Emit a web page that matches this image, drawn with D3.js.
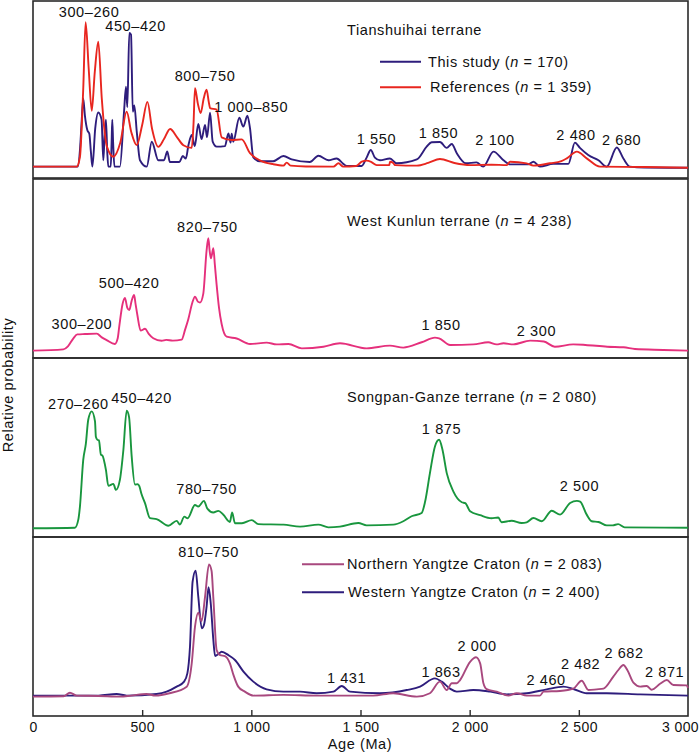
<!DOCTYPE html>
<html><head><meta charset="utf-8">
<script src="https://cdn.jsdelivr.net/npm/d3@7"></script>
<style>
html,body{margin:0;padding:0;background:#fff;}
svg text{font-family:"Liberation Sans",Arial,sans-serif;fill:#111;}
</style></head>
<body><svg id="c" width="700" height="753"></svg>
<script>
// ---------------- DATA (age in Ma, relative probability in % of panel height) ----------------
const ageTicks = [0, 500, 1000, 1500, 2000, 2500, 3000];
const tickLabels = ["0", "500", "1 000", "1 500", "2 000", "2 500", "3 000"];

const tianshuihaiThisStudy = [[0,6.4],[205,6.4],[215,15.8],[222,30],[230,45],[238,35],[249,27],[258,25],[265,15],[272,6.4],[285,28],[299,37],[314,33],[322,10],[328,24],[334,33],[340,15],[345,6.4],[356,6.4],[360,20],[363,33],[367,20],[373,6.4],[398,6.4],[417,37.5],[426,51.6],[432,40],[441,82],[449,81],[457,37.5],[464,41],[475,26.5],[490,10],[521,6.4],[544,20.5],[574,10],[600,10],[615,15],[627,9],[670,9],[686,12.4],[700,11],[712,18.6],[727,24.3],[741,18],[757,30.5],[772,22],[788,30],[797,23],[811,36.9],[823,20.5],[841,17.7],[879,18],[895,25.2],[905,20],[910,25],[917,20.5],[945,34],[963,29],[982,35.2],[994,28],[1009,11.7],[1039,9.5],[1100,9.5],[1147,12.4],[1185,10.5],[1268,9],[1307,12.6],[1353,10],[1391,11],[1421,8],[1437,6.8],[1505,6.8],[1528,11.5],[1547,15.8],[1566,11.5],[1589,10],[1635,11],[1665,8.3],[1758,10.5],[1803,17.7],[1826,20.2],[1864,20.3],[1895,17],[1918,19.2],[1941,14],[1983,8.3],[2031,8.8],[2062,6.4],[2109,14.9],[2155,10],[2185,7.7],[2269,7.7],[2292,9.2],[2322,6.4],[2383,8],[2452,8],[2482,20],[2505,17],[2543,13],[2590,10],[2628,6.4],[2674,17.2],[2704,11],[2734,6.4],[2800,5.9],[3000,5.8]];

const tianshuihaiReferences = [[0,6.4],[200,6.4],[215,12],[230,50],[241,88],[255,62],[269,38],[283,60],[299,77],[315,45],[338,18],[368,12],[400,20],[429,37.5],[450,26],[475,18.6],[500,30],[524,43],[545,28],[574,17.6],[600,22],[628,27.7],[660,23],[689,18.5],[727,17],[735,30],[742,50.7],[755,42],[768,36.7],[782,45],[795,49.9],[805,43],[811,39.5],[841,38.6],[864,23],[910,21.5],[956,21.8],[994,14],[1039,10],[1100,7.8],[1147,7],[1162,8.7],[1180,7],[1250,6.5],[1376,6.4],[1399,8.3],[1421,6.4],[1480,6.8],[1506,9.2],[1528,9.8],[1550,9],[1574,7.3],[1632,7.3],[1635,9.2],[1650,8.5],[1658,7.3],[1758,7],[1810,8.5],[1864,10.7],[1930,8.5],[2002,7.3],[2100,7.5],[2170,7.3],[2185,9.2],[2261,8.3],[2292,7],[2368,8.3],[2420,9.5],[2445,11.1],[2491,14.9],[2536,11.1],[2597,6.4],[2800,6.2],[3000,5.8]];

const westKunlun = [[0,4.1],[139,4.8],[160,6.5],[185,11],[203,13.2],[238,13.4],[292,13.6],[315,11.5],[337,10],[375,7.8],[388,11],[395,17.5],[410,30],[421,33.5],[432,28],[441,26.8],[452,32],[463,35.2],[470,30],[478,24],[493,15.3],[513,16.3],[530,13.5],[551,11],[589,9.6],[610,10.1],[640,9.7],[681,10.3],[697,16],[711,21.5],[730,31],[742,34.3],[755,31.5],[765,31],[780,36],[795,60],[803,66.9],[809,60],[815,55.7],[826,61.3],[833,52],[841,41],[852,28],[864,19],[887,11.9],[933,10.9],[994,7.8],[1070,8.6],[1116,7.6],[1170,7.8],[1231,5.4],[1330,6.3],[1406,8.2],[1528,5.4],[1635,6.9],[1696,5.8],[1780,8.8],[1841,11.4],[1860,11],[1910,7.3],[2017,7.6],[2085,8.8],[2123,7.6],[2155,8.2],[2200,7.6],[2277,9.7],[2340,9.2],[2390,6.3],[2474,7.6],[2530,7.3],[2630,6.3],[2705,6],[2757,5],[2887,4.5],[3000,4.1]];

const songpanGanze = [[0,4.9],[192,5.2],[208,10],[215,17],[230,43],[242,52],[253,65.5],[269,70.2],[284,64.6],[288,56],[295,54.3],[302,54],[311,46],[318,45.5],[334,37.5],[345,28.6],[368,29.7],[380,26.3],[398,31.9],[414,48.7],[429,70.6],[440,67],[452,45],[467,29.3],[480,29.5],[487,28.4],[497,24],[513,18.9],[536,10.5],[566,10],[620,6.3],[658,9],[673,7],[693,11.4],[708,10.5],[742,17.9],[757,17],[783,20.2],[798,16],[826,13.7],[849,14.6],[872,12.4],[902,8.4],[912,13.7],[925,7.7],[957,7.7],[1002,9.4],[1032,7.2],[1147,6.9],[1223,5.8],[1307,6.9],[1353,5.4],[1406,5.8],[1490,7.8],[1528,6.5],[1650,6.9],[1696,8.8],[1734,11.6],[1780,13.4],[1796,19.8],[1818,35.7],[1841,50.6],[1860,54.3],[1875,49],[1895,35.7],[1925,25.5],[1964,19.4],[1980,18.9],[2002,14.4],[2048,12.2],[2100,10.5],[2131,10.9],[2146,8.2],[2192,9.1],[2238,7.8],[2261,8.2],[2292,10.6],[2330,8.8],[2376,14.7],[2414,12.5],[2460,19],[2491,20.2],[2506,19.8],[2536,12.5],[2559,8.8],[2590,8.4],[2628,6.5],[2655,6.5],[2680,7.2],[2710,5.4],[3000,5.2]];

const northernYangtze = [[0,10.8],[140,11],[169,13],[200,11.4],[300,11.2],[400,10.8],[450,11.4],[520,12.3],[560,11.4],[625,12.7],[704,16.4],[727,29.4],[742,49.9],[757,57.7],[772,53],[788,66.6],[806,84.7],[818,81],[826,66],[841,36.9],[857,34],[879,33.5],[902,29.4],[918,23],[940,16.4],[970,13.6],[1009,11.4],[1147,11.8],[1300,11.4],[1406,11.4],[1559,11.4],[1650,12.7],[1758,10.8],[1818,12.7],[1864,19.2],[1895,14.5],[1918,18.3],[1941,18.3],[1956,20.1],[2002,30.3],[2029,32.8],[2048,29.4],[2063,18.3],[2078,15],[2124,13.6],[2177,11.4],[2216,12.7],[2261,11.4],[2322,11.4],[2338,13.6],[2414,14],[2475,15.3],[2513,19.7],[2544,14.5],[2582,14.9],[2613,15.3],[2658,22],[2681,25.7],[2704,28.5],[2722,25.7],[2750,18.6],[2781,16.4],[2811,16.8],[2834,14.7],[2872,18],[2903,20.1],[2933,17.3],[2994,17.1],[3000,15.6]];

const westernYangtze = [[0,11.4],[300,11.4],[383,12.3],[429,11.4],[566,12.3],[612,13.6],[658,16.4],[692,19.2],[707,23.8],[719,38.7],[731,75],[745,81.2],[757,66.7],[773,49],[783,50.8],[795,61],[804,71.9],[814,63],[826,42.5],[834,33.5],[849,34.6],[864,35.9],[895,34],[925,31.3],[964,24.8],[1009,19.2],[1070,14.9],[1147,13.6],[1223,13.6],[1299,12.7],[1376,13.6],[1414,16.8],[1452,13.6],[1589,12.7],[1712,14.5],[1773,16.4],[1841,21],[1872,19.2],[1910,15.3],[1941,13.6],[2017,14.5],[2094,13.6],[2170,12.1],[2261,12.7],[2353,14.9],[2429,16.4],[2475,15.1],[2536,12.7],[2628,12.7],[2780,12.1],[3000,11.4]];

// annotation labels [age position, value position (baseline), text]
const peakLabels1 = [[257,90.7,"300–260"],[470,83.2,"450–420"],[788,54.8,"800–750"],[999,37.5,"1 000–850"],[1573,19.2,"1 550"],[1857,22.6,"1 850"],[2116,18.4,"2 100"],[2487,21.5,"2 480"],[2696,18.6,"2 680"]];
const peakLabels2 = [[224,16.2,"300–200"],[440,39.3,"500–420"],[799,70.2,"820–750"],[1869,15.6,"1 850"],[2306,12.5,"2 300"]];
const peakLabels3 = [[208,71.3,"270–260"],[497,74.7,"450–420"],[795,23.9,"780–750"],[1871,57.5,"1 875"],[2503,25.9,"2 500"]];
const peakLabels4 = [[804,88.7,"810–750"],[1436,18.3,"1 431"],[1869,22,"1 863"],[2034,36.3,"2 000"],[2350,17.3,"2 460"],[2508,26.3,"2 482"],[2707,32.4,"2 682"],[2893,22,"2 871"]];

// ---------------- DRAWING ----------------
const svg = d3.select("#c");
const left = 33, right = 688;
const x = d3.scaleLinear().domain([0, 3000]).range([left, right]);
const panels = [[1,178],[179,358],[358,537],[537,716]];
const yScales = panels.map(p => d3.scaleLinear().domain([0,100]).range([p[1], p[0]]));

const fs = "14.5px", ls = "0.6px";

// frames
panels.forEach(p => {
  svg.append("rect").attr("x", left).attr("y", p[0]).attr("width", right-left).attr("height", p[1]-p[0])
    .attr("fill","none").attr("stroke","#2a2a2a").attr("stroke-width",1.6);
});

function drawLine(data, yS, color){
  const line = d3.line().x(d => x(d[0])).y(d => yS(d[1])).curve(d3.curveMonotoneX);
  svg.append("path").datum(data).attr("d", line).attr("fill","none")
    .attr("stroke", color).attr("stroke-width", 1.9).attr("stroke-linejoin","round");
}
const cBlue = "#2e1d7c", cRed = "#e8261f", cPink = "#e5307c", cGreen = "#19963e", cMauve = "#a8487e";

drawLine(tianshuihaiThisStudy, yScales[0], cBlue);
drawLine(tianshuihaiReferences, yScales[0], cRed);
drawLine(westKunlun, yScales[1], cPink);
drawLine(songpanGanze, yScales[2], cGreen);
drawLine(westernYangtze, yScales[3], cBlue);
drawLine(northernYangtze, yScales[3], cMauve);

function labels(arr, yS){
  arr.forEach(d => {
    svg.append("text").attr("x", x(d[0])).attr("y", yS(d[1])).attr("text-anchor","middle")
      .style("font-size", fs).style("letter-spacing", ls).text(d[2]);
  });
}
labels(peakLabels1, yScales[0]);
labels(peakLabels2, yScales[1]);
labels(peakLabels3, yScales[2]);
labels(peakLabels4, yScales[3]);

function txt(px, py, parts){
  const t = svg.append("text").attr("x", px).attr("y", py).style("font-size", fs).style("letter-spacing", ls);
  parts.forEach(p => {
    const s = t.append("tspan").text(p[0]);
    if (p[1]) s.style("font-style","italic");
  });
  return t;
}
// panel titles & legends
txt(347, 35, [["Tianshuihai terrane"]]);
svg.append("line").attr("x1",380).attr("x2",421).attr("y1",61.7).attr("y2",61.7).attr("stroke",cBlue).attr("stroke-width",2);
txt(428, 66.7, [["This study ("],["n",1],[" = 170)"]]);
svg.append("line").attr("x1",380).attr("x2",421).attr("y1",87.3).attr("y2",87.3).attr("stroke",cRed).attr("stroke-width",2);
txt(430, 92, [["References ("],["n",1],[" = 1 359)"]]);
txt(347, 225.7, [["West Kunlun terrane ("],["n",1],[" = 4 238)"]]);
txt(347, 401.7, [["Songpan-Ganze terrane ("],["n",1],[" = 2 080)"]]);
svg.append("line").attr("x1",302).attr("x2",344).attr("y1",564.3).attr("y2",564.3).attr("stroke",cMauve).attr("stroke-width",2);
txt(347, 568.5, [["Northern Yangtze Craton ("],["n",1],[" = 2 083)"]]);
svg.append("line").attr("x1",302).attr("x2",344).attr("y1",592.3).attr("y2",592.3).attr("stroke",cBlue).attr("stroke-width",2);
txt(348, 597, [["Western Yangtze Craton ("],["n",1],[" = 2 400)"]]);

// bottom axis (ticks inward)
const axis = d3.axisBottom(x).tickValues(ageTicks).tickFormat((d,i) => tickLabels[i]).tickSizeInner(-6).tickSizeOuter(0).tickPadding(6);
const g = svg.append("g").attr("transform", `translate(0,${panels[3][1]})`).call(axis);
g.select(".domain").remove();
g.selectAll(".tick line").attr("stroke","#2a2a2a").attr("stroke-width",1.4)
  .filter(d => d === 0 || d === 3000).remove();
g.selectAll(".tick text").style("font-size","14px").style("letter-spacing","0.4px")
  .style("font-family","'Liberation Sans',Arial,sans-serif").attr("fill","#111")
  .attr("dx", d => d === 3000 ? -8 : 0);

svg.append("text").attr("x", 360).attr("y", 748.5).attr("text-anchor","middle")
  .style("font-size", fs).style("letter-spacing", ls).text("Age (Ma)");
svg.append("text").attr("transform","translate(12.5,385) rotate(-90)").attr("text-anchor","middle")
  .style("font-size", fs).style("letter-spacing", ls).text("Relative probability");
</script></body></html>
